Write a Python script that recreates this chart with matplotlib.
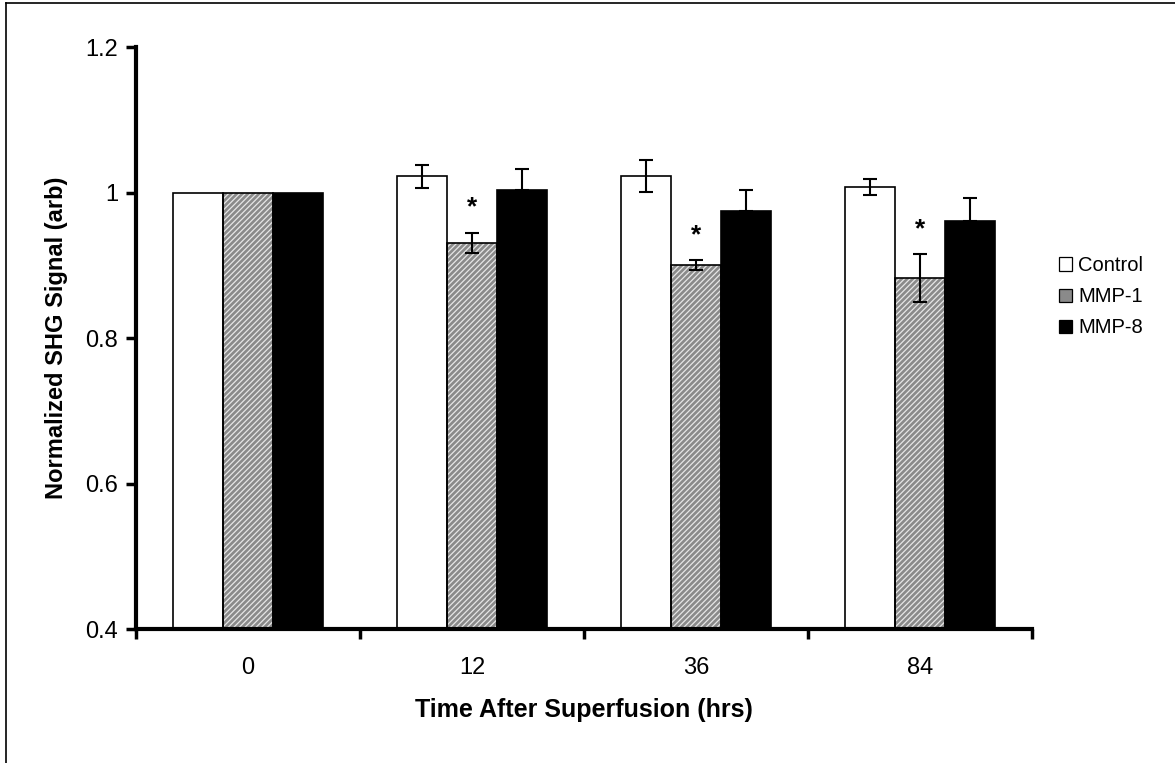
import matplotlib
matplotlib.use("Agg")
import matplotlib.pyplot as plt
import numpy as np
from matplotlib.lines import Line2D

plt.rcParams['font.family'] = ['Liberation Sans', 'DejaVu Sans']
plt.rcParams['hatch.linewidth'] = 0.9

categories = ['0', '12', '36', '84']
series_names = ['Control', 'MMP-1', 'MMP-8']
control = [1.0, 1.022, 1.023, 1.007]
control_err = [0.0, 0.016, 0.022, 0.011]
mmp1 = [1.0, 0.931, 0.900, 0.882]
mmp1_err = [0.0, 0.014, 0.007, 0.033]
mmp8 = [1.0, 1.003, 0.974, 0.961]
mmp8_err = [0.0, 0.029, 0.030, 0.032]
significant = [False, True, True, True]

HATCH_FACE = '#8a8a8a'

fig = plt.figure(figsize=(11.75, 7.63), dpi=100)
ax = fig.add_axes([0.1157, 0.1756, 0.7626, 0.7628])

x = np.arange(len(categories))
w = 0.222
styles = [
    dict(facecolor='white', hatch=None, hatchcolor='white'),
    dict(facecolor=HATCH_FACE, hatch='//////', hatchcolor='#e6e6e6'),
    dict(facecolor='black', hatch=None, hatchcolor='black'),
]
vals = [control, mmp1, mmp8]
errs = [control_err, mmp1_err, mmp8_err]
for i, (v, e, st) in enumerate(zip(vals, errs, styles)):
    pos = x + (i - 1) * w
    ax.bar(pos, np.array(v) - 0.4, w, bottom=0.4, color=st['facecolor'],
           edgecolor=st['hatchcolor'], hatch=st['hatch'], linewidth=0, zorder=2)
    ax.bar(pos, np.array(v) - 0.4, w, bottom=0.4, fill=False,
           edgecolor='black', linewidth=1.2, zorder=3)
    for j in range(len(categories)):
        if e[j] > 0:
            if i == 2:
                ax.errorbar(pos[j], v[j], yerr=[[0], [e[j]]], fmt='none',
                            ecolor='black', elinewidth=1.5, capsize=4.7, capthick=1.5, zorder=4)
            else:
                ax.errorbar(pos[j], v[j], yerr=e[j], fmt='none',
                            ecolor='black', elinewidth=1.5, capsize=4.7, capthick=1.5, zorder=4)

for j in range(len(categories)):
    if significant[j]:
        top = mmp1[j] + mmp1_err[j]
        ax.text(x[j], top + 0.034, '*', ha='center', va='center',
                fontsize=19, fontweight='bold')

ax.set_xlim(-0.5, len(categories) - 0.5)
ax.set_ylim(0.4, 1.2)
ax.set_yticks([0.4, 0.6, 0.8, 1.0, 1.2])
ax.set_yticklabels(['0.4', '0.6', '0.8', '1', '1.2'], fontsize=17)
ax.set_xticks(x)
ax.set_xticklabels(categories, fontsize=17)
ax.set_xticks(np.arange(len(categories) + 1) - 0.5, minor=True)
ax.tick_params(axis='x', which='major', length=0, pad=20)
ax.tick_params(axis='x', which='minor', length=7, width=2.5, direction='out')
ax.tick_params(axis='y', length=7, width=2.5, direction='out', pad=6)
for s in ['top', 'right']:
    ax.spines[s].set_visible(False)
for s in ['left', 'bottom']:
    ax.spines[s].set_linewidth(3)
ax.set_ylabel('Normalized SHG Signal (arb)', fontsize=17, fontweight='bold', labelpad=12)
ax.set_xlabel('Time After Superfusion (hrs)', fontsize=18, fontweight='bold', labelpad=14)

handles = [
    plt.Rectangle((0, 0), 1, 1, facecolor='white', edgecolor='black', linewidth=0.9),
    plt.Rectangle((0, 0), 1, 1, facecolor=HATCH_FACE, edgecolor='black', linewidth=0.9),
    plt.Rectangle((0, 0), 1, 1, facecolor='black', edgecolor='black', linewidth=0.9),
]
fig.legend(handles, series_names, loc='center left', bbox_to_anchor=(0.893, 0.611),
           frameon=False, fontsize=14.5, handlelength=0.65, handleheight=0.65,
           handletextpad=0.3, labelspacing=0.6, borderpad=0)

fig.add_artist(Line2D([0.005, 0.005], [0.0, 0.996], color='black', lw=1.2, transform=fig.transFigure))
fig.add_artist(Line2D([0.005, 1.0], [0.996, 0.996], color='black', lw=1.2, transform=fig.transFigure))

fig.savefig('out.png', dpi=100)
